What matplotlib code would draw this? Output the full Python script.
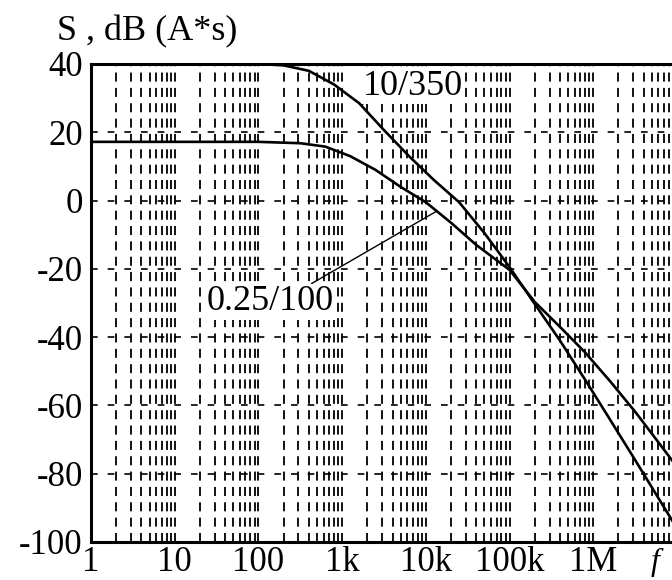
import matplotlib
matplotlib.use('Agg')
from matplotlib import pyplot as plt
from matplotlib.ticker import LogLocator, NullFormatter
import numpy as np

plt.rcParams['font.family'] = ['Liberation Serif', 'DejaVu Serif']
plt.rcParams['axes.unicode_minus'] = False

# spectra, frequency in Hz, S in dB (A*s)
f_10_350 = [1, 100, 200, 400, 800, 1.6e3, 3.2e3, 6.3e3, 12.5e3, 25e3, 50e3,
            100e3, 200e3, 400e3, 800e3, 1.6e6, 3.2e6, 6.3e6, 10e6]
s_10_350 = [40, 40, 39.6, 38, 34, 28.5, 20.5, 13, 6, -0.5, -9.5,
            -19.5, -30.3, -41, -52.5, -64.3, -76.2, -88, -96]

f_025_100 = [1, 100, 316, 630, 1.25e3, 2.5e3, 5e3, 10e3, 20e3, 40e3,
             100e3, 200e3, 400e3, 800e3, 1.6e6, 3.2e6, 6.3e6, 10e6]
s_025_100 = [17.2, 17.2, 16.8, 15.8, 13, 9, 4, -0.5, -6.5, -13,
             -20.3, -29.7, -37, -44.5, -53, -62, -71.5, -78]

x_ticks = [1, 10, 100, 1e3, 1e4, 1e5, 1e6]
x_labels = ['1', '10', '100', '1k', '10k', '100k', '1M']
y_ticks = [40, 20, 0, -20, -40, -60, -80, -100]

fs = 25

fig = plt.figure(figsize=(6.72, 5.80), dpi=100)
ax = fig.add_axes([91/672, 1 - 542/580, 586/672, 478/580])

ax.plot(f_10_350, s_10_350, color='black', lw=1.9, zorder=4)
ax.plot(f_025_100, s_025_100, color='black', lw=1.9, zorder=4)

ax.set_xscale('log')
ax.set_xlim(1, 1e7)
ax.set_ylim(-100, 40)
ax.set_xticks(x_ticks)
ax.set_xticklabels(x_labels)
ax.xaxis.set_minor_locator(LogLocator(base=10, subs=np.arange(2, 10), numticks=100))
ax.xaxis.set_minor_formatter(NullFormatter())
ax.set_yticks(y_ticks)
ax.set_yticklabels([str(v) for v in y_ticks])
ax.tick_params(which='both', length=0, labelsize=fs)
ax.tick_params(axis='x', pad=3)
ax.tick_params(axis='y', pad=6)

ax.grid(which='both', axis='x', color='black', lw=1.3, ls=(0, (5, 3.5)))
ax.grid(which='major', axis='y', color='black', lw=1.2, ls=(0, (4, 6)))

for side in ['left', 'bottom', 'top']:
    ax.spines[side].set_linewidth(2.2)
ax.spines['right'].set_visible(False)

# axis captions
fig.text(57/672, 1 - 32/580, 'S , dB (A*s)', fontsize=fs + 1, va='center', ha='left')
ax.text(10**6.74, -0.012, 'f', style='italic', fontsize=fs - 2, ha='center', va='top',
        transform=ax.get_xaxis_transform())

# curve labels with leaders
p1 = 10**3.22
ax.annotate('10/350', xy=(p1, np.interp(np.log10(p1), np.log10(f_10_350), s_10_350)),
            xytext=(10**3.84, 33.5), fontsize=fs + 1, ha='center', va='center',
            arrowprops=dict(arrowstyle='-', color='black', lw=1.0,
                            shrinkA=0, shrinkB=0, relpos=(0.2, 0.0)),
            bbox=dict(boxstyle='square,pad=0.05', fc='white', ec='none'))
p2 = 10**4.13
ax.annotate('0.25/100', xy=(p2, np.interp(np.log10(p2), np.log10(f_025_100), s_025_100)),
            xytext=(10**2.14, -29.7), fontsize=fs + 1, ha='center', va='center',
            arrowprops=dict(arrowstyle='-', color='black', lw=1.0,
                            shrinkA=0, shrinkB=0, relpos=(0.8, 1.0)),
            bbox=dict(boxstyle='square,pad=0.05', fc='white', ec='none'))

fig.savefig('out.png', dpi=100)
